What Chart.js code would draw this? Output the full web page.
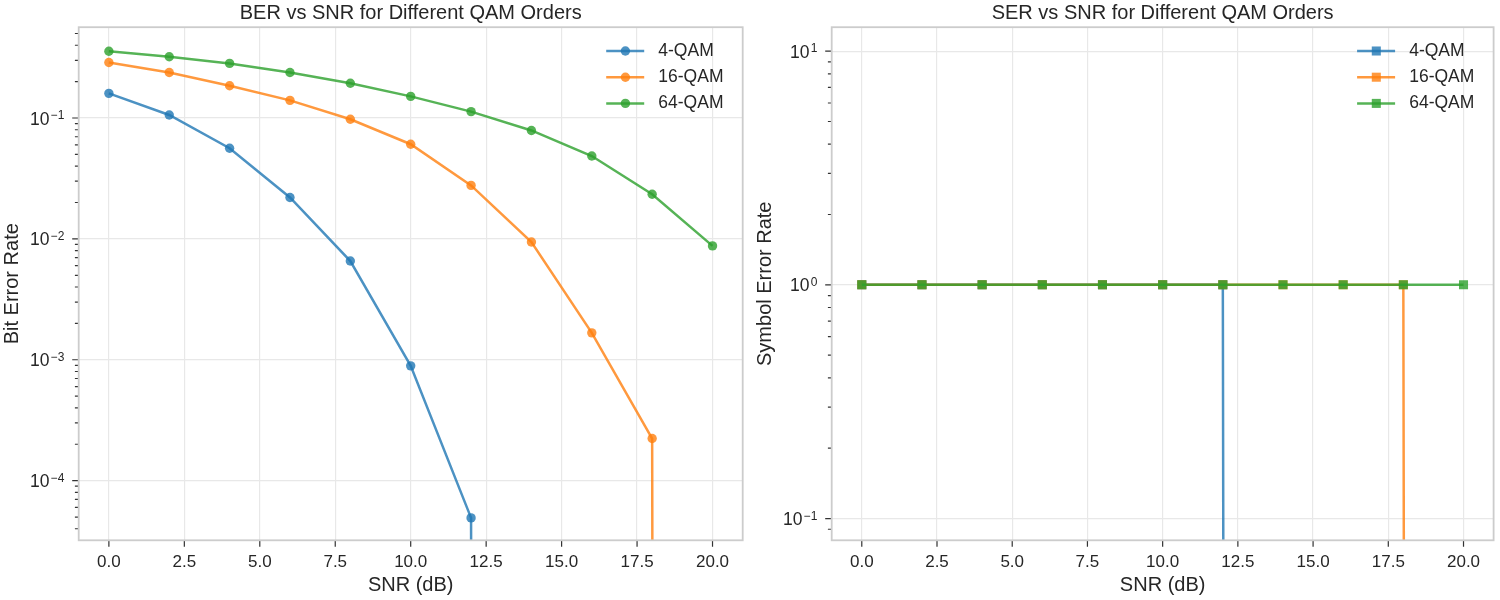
<!DOCTYPE html>
<html>
<head>
<meta charset="utf-8">
<script src="https://cdn.jsdelivr.net/npm/chart.js@4/dist/chart.umd.min.js"></script>
<style>
  body { margin: 0; background: #fff; }
  #wrap { display: flex; width: 1500px; height: 600px; }
  canvas { display: block; }
</style>
</head>
<body>
<div id="wrap">
  <canvas id="berChart" width="750" height="600"></canvas>
  <canvas id="serChart" width="750" height="600"></canvas>
</div>
<script>
// SNR points (dB)
var snr = [0, 2, 4, 6, 8, 10, 12, 14, 16, 18, 20];

// bit error rate
var ber4  = [0.160, 0.106, 0.0562, 0.0220, 0.00656, 0.000891, 0.0000492, 0, 0, 0, 0];
var ber16 = [0.288, 0.238, 0.185, 0.140, 0.0976, 0.0607, 0.0277, 0.00942, 0.00167, 0.000223, 0];
var ber64 = [0.357, 0.321, 0.283, 0.238, 0.194, 0.151, 0.113, 0.0789, 0.0485, 0.0234, 0.00875];

// symbol error rate
var ser4  = [1, 1, 1, 1, 1, 1, 1, 0, 0, 0, 0];
var ser16 = [1, 1, 1, 1, 1, 1, 1, 1, 1, 1, 0];
var ser64 = [1, 1, 1, 1, 1, 1, 1, 1, 1, 1, 1];

var seriesNames = ['4-QAM', '16-QAM', '64-QAM'];
var xTicks = [0, 2.5, 5, 7.5, 10, 12.5, 15, 17.5, 20];
var berTicks = [1e-4, 1e-3, 1e-2, 1e-1];
var berTickLabels = ['10^\u22124', '10^\u22123', '10^\u22122', '10^\u22121'];
var serTicks = [0.1, 1, 10];
var serTickLabels = ['10^\u22121', '10^0', '10^1'];

var colors = ['rgba(31,119,180,0.8)', 'rgba(255,127,14,0.8)', 'rgba(44,160,44,0.8)'];
var FONT = "'Liberation Sans', Arial, sans-serif";
var TEXT = '#262626';

// log axis can't show 0, push it far below like matplotlib clipping does
function clipLog(v) { return v > 0 ? v : 1e-300; }

function makeSets(list, style, radius) {
  return list.map(function (vals, i) {
    return {
      label: seriesNames[i],
      data: snr.map(function (x, j) { return { x: x, y: clipLog(vals[j]) }; }),
      borderColor: colors[i],
      backgroundColor: colors[i],
      borderWidth: 2.5,
      pointStyle: style,
      pointRadius: radius,
      pointBorderWidth: 0,
      pointHoverRadius: radius,
      tension: 0,
      order: list.length - i   // later series drawn on top
    };
  });
}

var decor = {
  id: 'decor',
  afterDraw: function (chart, args, opts) {
    var ctx = chart.ctx, a = chart.chartArea, xs = chart.scales.x, ys = chart.scales.y;
    ctx.save();

    // title centred over the plot area
    ctx.fillStyle = TEXT;
    ctx.font = '20px ' + FONT;
    ctx.textAlign = 'center';
    ctx.textBaseline = 'middle';
    ctx.fillText(opts.title, (a.left + a.right) / 2, 13);

    // tick marks
    ctx.strokeStyle = '#333';
    ctx.lineWidth = 1.2;
    ctx.beginPath();
    xTicks.forEach(function (v) {
      var px = xs.getPixelForValue(v);
      ctx.moveTo(px, a.bottom); ctx.lineTo(px, a.bottom + 6.5);
    });
    opts.yTicks.forEach(function (v) {
      var py = ys.getPixelForValue(v);
      ctx.moveTo(a.left - 6.5, py); ctx.lineTo(a.left, py);
    });
    var d0 = Math.floor(Math.log10(ys.min)), d1 = Math.ceil(Math.log10(ys.max));
    for (var d = d0; d <= d1; d++) {
      for (var k = 2; k <= 9; k++) {
        var v = k * Math.pow(10, d);
        if (v < ys.min || v > ys.max) continue;
        var py = ys.getPixelForValue(v);
        ctx.moveTo(a.left - 3.8, py); ctx.lineTo(a.left, py);
      }
    }
    ctx.stroke();

    // y tick labels: base plus raised exponent
    ctx.fillStyle = TEXT;
    ctx.textAlign = 'right';
    ctx.textBaseline = 'alphabetic';
    opts.yTicks.forEach(function (v, i) {
      var parts = opts.yLabels[i].split('^');
      var py = ys.getPixelForValue(v);
      var xr = a.left - 14.4;
      ctx.font = '12px ' + FONT;
      var ew = ctx.measureText(parts[1]).width;
      ctx.fillText(parts[1], xr, py + 1);
      ctx.font = '17.5px ' + FONT;
      ctx.fillText(parts[0], xr - ew - 1.2, py + 6.5);
    });

    // axes frame
    ctx.strokeStyle = '#cccccc';
    ctx.lineWidth = 1.8;
    ctx.strokeRect(a.left, a.top, a.right - a.left, a.bottom - a.top);

    // legend in the upper right corner
    ctx.textAlign = 'left';
    ctx.textBaseline = 'middle';
    chart.data.datasets.forEach(function (ds, i) {
      var ly = a.top + 23.8 + i * 26.2;
      ctx.strokeStyle = ds.borderColor;
      ctx.lineWidth = 2.5;
      ctx.beginPath();
      ctx.moveTo(a.right - 136.5, ly); ctx.lineTo(a.right - 98.5, ly);
      ctx.stroke();
      ctx.fillStyle = ds.backgroundColor;
      Chart.helpers.drawPoint(ctx, { pointStyle: ds.pointStyle, radius: ds.pointRadius, borderWidth: 0, rotation: 0 }, a.right - 117.3, ly);
      ctx.fillStyle = TEXT;
      ctx.font = '17.5px ' + FONT;
      ctx.fillText(ds.label, a.right - 84.4, ly);
    });
    ctx.restore();
  }
};

function buildChart(id, title, yTitle, sets, yMin, yMax, yTicks, yLabels, yWidth, rightPad, yTitlePad) {
  return new Chart(document.getElementById(id), {
    type: 'line',
    data: { datasets: sets },
    plugins: [decor],
    options: {
      responsive: false,
      animation: false,
      layout: { padding: { left: 0, right: rightPad, top: 27.2, bottom: 0 } },
      plugins: {
        legend: { display: false },
        tooltip: { enabled: false },
        title: { display: false },
        decor: { title: title, yTicks: yTicks, yLabels: yLabels }
      },
      scales: {
        x: {
          type: 'linear', min: -1, max: 21,
          afterBuildTicks: function (s) { s.ticks = xTicks.map(function (v) { return { value: v }; }); },
          afterFit: function (s) { s.height = 59.7; },
          grid: { color: '#e8e8e8', lineWidth: 1.2, drawTicks: false },
          border: { display: false },
          ticks: {
            padding: 12, color: TEXT, maxRotation: 0,
            font: { family: FONT, size: 17, lineHeight: 1.2 },
            callback: function (v) { return v.toFixed(1); }
          },
          title: {
            display: true, text: 'SNR (dB)', color: TEXT,
            font: { family: FONT, size: 20, lineHeight: 1.2 },
            padding: { top: 0, bottom: 3 }
          }
        },
        y: {
          type: 'logarithmic', min: yMin, max: yMax,
          afterBuildTicks: function (s) { s.ticks = yTicks.map(function (v) { return { value: v }; }); },
          afterFit: function (s) { s.width = yWidth; },
          grid: { color: '#e8e8e8', lineWidth: 1.2, drawTicks: false },
          border: { display: false },
          ticks: { display: false },
          title: {
            display: true, text: yTitle, color: TEXT,
            font: { family: FONT, size: 20, lineHeight: 1.2 },
            padding: { top: yTitlePad, bottom: 0 }
          }
        }
      }
    }
  });
}

buildChart('berChart', 'BER vs SNR for Different QAM Orders', 'Bit Error Rate',
  makeSets([ber4, ber16, ber64], 'circle', 4.7),
  3.21e-5, 0.564, berTicks, berTickLabels, 78.7, 7.3, 0);

buildChart('serChart', 'SER vs SNR for Different QAM Orders', 'Symbol Error Rate',
  makeSets([ser4, ser16, ser64], 'rect', 6.4),
  0.0807, 12.66, serTicks, serTickLabels, 81.7, 4.3, 3);
</script>
</body>
</html>
